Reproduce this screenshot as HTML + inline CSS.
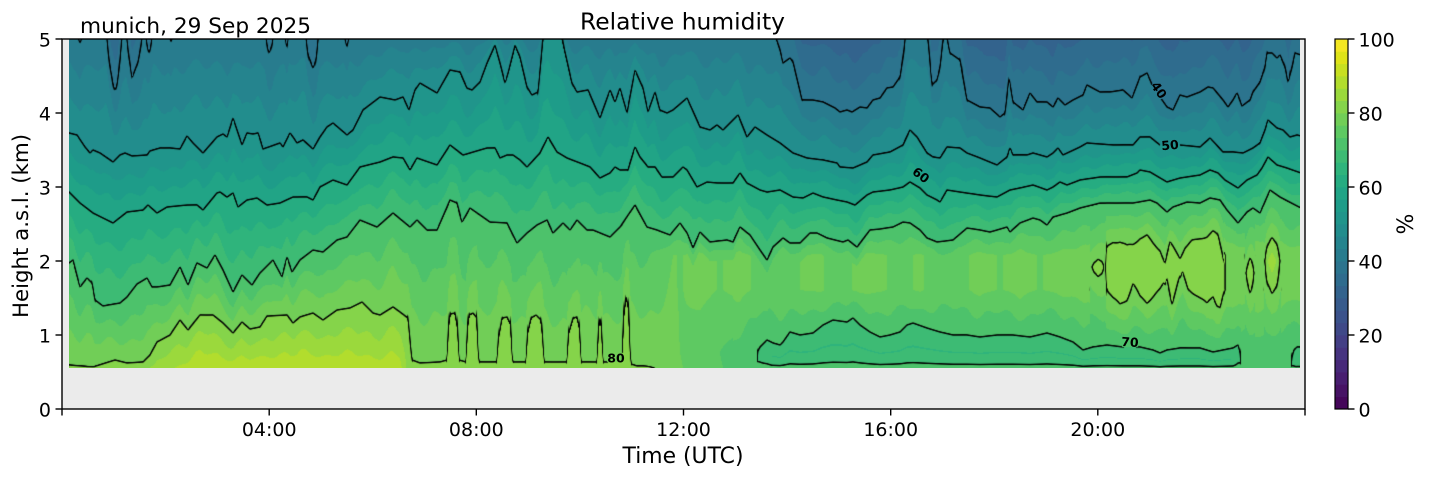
<!DOCTYPE html>
<html><head><meta charset="utf-8">
<style>
html,body{margin:0;padding:0;background:#fff;}
#wrap{position:relative;width:1429px;height:478px;overflow:hidden;background:#fff;}
#cv{position:absolute;left:69px;top:39px;width:1231px;height:329px;}
svg{position:absolute;left:0;top:0;}
text{font-family:"DejaVu Sans","Liberation Sans",sans-serif;fill:#000;}
</style></head><body>
<div id="wrap">
<svg width="1429" height="478"><rect x="62" y="39" width="1243" height="370" fill="#ebebeb"/></svg>
<canvas id="cv" width="1231" height="329"></canvas>
<svg id="ov" width="1429" height="478">
  <rect x="62" y="39" width="1243" height="370" fill="none" stroke="#000" stroke-width="1.4"/>
  <g stroke="#000" stroke-width="1.4">
    <line x1="55.5" y1="39" x2="62" y2="39"/><line x1="55.5" y1="113" x2="62" y2="113"/>
    <line x1="55.5" y1="187" x2="62" y2="187"/><line x1="55.5" y1="261" x2="62" y2="261"/>
    <line x1="55.5" y1="335" x2="62" y2="335"/><line x1="55.5" y1="409" x2="62" y2="409"/>
    <line x1="62" y1="409" x2="62" y2="415.5"/><line x1="269.2" y1="409" x2="269.2" y2="415.5"/>
    <line x1="476.3" y1="409" x2="476.3" y2="415.5"/><line x1="683.5" y1="409" x2="683.5" y2="415.5"/>
    <line x1="890.7" y1="409" x2="890.7" y2="415.5"/><line x1="1097.8" y1="409" x2="1097.8" y2="415.5"/>
    <line x1="1305" y1="409" x2="1305" y2="415.5"/>
  </g>
  <g font-size="19" text-anchor="end">
    <text x="51" y="46.3">5</text><text x="51" y="120.3">4</text><text x="51" y="194.3">3</text>
    <text x="51" y="268.3">2</text><text x="51" y="342.3">1</text><text x="51" y="416.3">0</text>
  </g>
  <g font-size="19" text-anchor="middle">
    <text x="269.2" y="436">04:00</text><text x="476.3" y="436">08:00</text>
    <text x="683.5" y="436">12:00</text><text x="890.7" y="436">16:00</text>
    <text x="1097.8" y="436">20:00</text>
  </g>
  <text x="683" y="463" font-size="22" text-anchor="middle" textLength="121" lengthAdjust="spacingAndGlyphs">Time (UTC)</text>
  <text transform="translate(28,226) rotate(-90)" font-size="21.5" text-anchor="middle" textLength="184" lengthAdjust="spacingAndGlyphs">Height a.s.l. (km)</text>
  <text x="682.5" y="29.3" font-size="23" text-anchor="middle" textLength="205" lengthAdjust="spacingAndGlyphs">Relative humidity</text>
  <text x="80" y="33" font-size="21.5" textLength="231" lengthAdjust="spacingAndGlyphs">munich, 29 Sep 2025</text>
  <g id="cb"></g>
  <rect x="1335" y="39" width="13" height="370" fill="none" stroke="#000" stroke-width="1.2"/>
  <g stroke="#000" stroke-width="1.4">
    <line x1="1348" y1="39" x2="1354.5" y2="39"/><line x1="1348" y1="113" x2="1354.5" y2="113"/>
    <line x1="1348" y1="187" x2="1354.5" y2="187"/><line x1="1348" y1="261" x2="1354.5" y2="261"/>
    <line x1="1348" y1="335" x2="1354.5" y2="335"/><line x1="1348" y1="409" x2="1354.5" y2="409"/>
  </g>
  <g font-size="19">
    <text x="1358.5" y="46.3">100</text><text x="1358.5" y="120.3">80</text><text x="1358.5" y="194.3">60</text>
    <text x="1358.5" y="268.3">40</text><text x="1358.5" y="342.3">20</text><text x="1358.5" y="416.3">0</text>
  </g>
  <text transform="translate(1413,224) rotate(-90)" font-size="22" text-anchor="middle">%</text>
  <g font-size="12.5" font-weight="bold" text-anchor="middle">
    <text x="616" y="362.5">80</text>
    <text x="1130" y="346.5" transform="rotate(4 1130 342)">70</text>
    <text x="921" y="179.5" transform="rotate(38 921 175)">60</text>
    <text x="1170" y="149.5" transform="rotate(-5 1170 145)">50</text>
    <text x="1159" y="94.5" transform="rotate(55 1159 90)">40</text>
  </g>
</svg>
</div>
<script>
(function(){
const VIR=[[68,1,84],[71,19,101],[72,36,117],[70,52,128],[65,68,135],[59,82,139],[53,95,141],[47,108,142],[42,120,142],[37,132,142],[33,145,140],[30,156,137],[34,168,132],[47,180,124],[68,191,112],[94,201,98],[122,209,81],[155,217,60],[189,223,38],[223,227,24],[253,231,37]];
function vir(t){t=Math.max(0,Math.min(1,t))*20;const i=Math.min(19,Math.floor(t)),f=t-i;const a=VIR[i],b=VIR[i+1];return [Math.round(a[0]+(b[0]-a[0])*f),Math.round(a[1]+(b[1]-a[1])*f),Math.round(a[2]+(b[2]-a[2])*f)];}
const PAL=[];for(let k=0;k<30;k++)PAL.push(vir((k+0.5)/30));
const cb=document.getElementById('cb');const NS='http://www.w3.org/2000/svg';
for(let k=0;k<30;k++){const r=document.createElementNS(NS,'rect');const h=370/30;r.setAttribute('x','1335');r.setAttribute('y',(409-(k+1)*h).toFixed(2));r.setAttribute('width','13');r.setAttribute('height',(h+0.4).toFixed(2));const c=PAL[k];r.setAttribute('fill','rgb('+c[0]+','+c[1]+','+c[2]+')');cb.appendChild(r);}

function I(t,x){const n=t.length/2;if(x<=t[0])return t[1];if(x>=t[2*(n-1)])return t[2*n-1];let lo=0,hi=n-1;while(hi-lo>1){const m=(lo+hi)>>1;if(t[2*m]<=x)lo=m;else hi=m;}const x0=t[2*lo],x1=t[2*hi],u=(x-x0)/(x1-x0);return t[2*lo+1]*(1-u)+t[2*hi+1]*u;}

const T40=[69,30,76,30,80,43,84,30,106,30,109,60,113,85,115,90,117,85,120,60,122,36,126,30,128,50,132,78,135,70,138,62,141,45,143,30,145,30,147,45,149,53,151,45,153,30,168,30,171,42,174,30,265,30,267,45,269,53,272,45,274,30,284,30,287,48,289,30,305,30,308,55,313,68,316,60,319,30,343,30,347,47,350,30,540,28,545,-20,560,-20,565,30,770,30,776,38,780,50,783,63,790,58,793,62,802,100,813,100,823,102,835,108,840,112,847,110,852,112,860,107,867,108,873,100,880,98,887,88,893,87,900,77,904,50,906,30,926,30,928,40,932,85,937,80,940,67,943,40,945,32,947,38,950,53,960,60,967,100,980,107,990,108,1000,117,1005,113,1009,78,1013,102,1023,110,1030,93,1037,102,1047,102,1053,107,1058,98,1065,105,1073,100,1083,95,1087,85,1100,92,1110,92,1123,90,1132,98,1140,77,1147,73,1153,87,1167,107,1173,110,1180,95,1187,97,1200,92,1208,87,1213,88,1223,100,1228,107,1233,100,1237,93,1242,106,1250,100,1253,92,1258,85,1260,82,1265,67,1267,53,1272,53,1277,58,1280,55,1285,67,1288,82,1292,67,1295,53,1301,55];
const T50=[69,133,77,135,85,147,90,153,93,150,100,153,113,162,120,155,125,153,132,156,147,155,150,151,160,148,170,148,180,149,187,136,193,143,203,153,217,137,223,134,227,137,233,118,237,130,242,145,247,133,253,134,258,133,263,149,280,143,283,147,290,133,293,137,297,143,303,140,313,149,320,137,327,127,333,123,347,135,353,130,363,110,380,97,395,100,403,97,409,110,415,90,420,83,437,93,450,70,460,72,467,88,472,90,480,82,487,63,495,45,500,63,505,83,508,73,515,45,520,57,527,87,532,95,538,92,543,38,548,20,557,20,562,38,572,83,577,92,588,90,600,118,610,90,615,102,620,88,627,113,635,70,643,88,648,112,655,92,660,110,667,113,673,110,687,98,700,127,710,130,717,125,723,130,738,115,747,137,755,127,767,135,780,143,793,153,807,158,823,160,837,163,840,167,853,168,867,162,873,155,890,152,903,145,910,130,917,137,927,153,933,157,940,158,947,147,960,148,967,153,980,158,997,165,1007,157,1010,148,1013,155,1027,155,1033,153,1047,157,1053,153,1058,148,1063,155,1080,147,1087,143,1113,145,1133,145,1140,137,1150,137,1160,145,1180,145,1200,147,1210,138,1223,152,1233,152,1243,153,1253,148,1260,143,1265,130,1268,120,1277,128,1283,130,1290,137,1297,135,1301,136];
const T60=[69,192,80,203,93,213,103,218,113,223,127,212,143,210,148,205,157,213,167,207,187,205,197,205,203,210,217,193,220,192,227,197,233,193,238,207,247,200,257,198,267,205,280,203,293,197,307,197,313,200,320,187,333,180,347,185,360,167,380,162,393,157,403,158,410,170,417,158,437,165,450,145,463,155,487,148,495,148,500,158,507,155,513,155,520,160,527,167,540,153,548,137,557,152,567,158,580,163,590,167,600,178,610,173,615,167,620,170,628,170,635,147,640,157,648,167,655,167,662,177,673,177,683,167,687,170,697,187,707,182,717,183,727,183,733,183,740,173,747,183,760,190,767,192,780,190,793,197,803,198,813,193,823,197,837,200,847,202,855,205,867,195,873,192,890,190,903,187,910,182,920,188,927,195,937,200,940,202,947,190,960,192,980,195,997,197,1010,190,1020,188,1033,185,1047,190,1053,187,1060,182,1067,185,1080,180,1100,177,1127,177,1137,173,1140,170,1150,172,1167,182,1180,178,1200,175,1210,170,1218,173,1225,180,1238,188,1247,180,1257,175,1262,168,1268,157,1277,165,1287,168,1301,173];
const T70=[69,263,73,260,80,287,87,278,92,283,95,300,103,306,120,303,127,297,137,284,147,278,152,287,157,287,170,285,180,267,188,285,197,263,207,268,215,255,223,270,233,292,242,275,252,285,260,273,273,260,282,277,287,257,292,272,300,260,313,250,323,252,337,240,347,237,360,220,377,227,393,213,410,227,417,220,427,230,437,230,450,200,457,203,462,222,470,208,480,215,490,222,507,223,517,243,527,233,537,225,547,220,553,233,563,223,570,230,577,220,587,230,593,230,610,237,620,227,635,205,647,227,657,230,670,235,680,223,687,233,693,248,700,232,710,242,727,240,733,242,740,227,750,235,760,250,767,260,773,247,783,238,790,243,800,243,810,233,817,233,827,238,843,242,848,240,857,247,870,230,880,229,893,227,903,222,910,223,920,230,927,238,937,242,953,240,967,228,980,230,990,232,997,230,1007,227,1010,232,1020,223,1033,218,1040,220,1047,225,1053,217,1067,213,1080,208,1100,203,1113,203,1133,203,1150,200,1157,203,1167,212,1173,207,1187,202,1200,203,1210,198,1220,200,1227,210,1238,223,1247,212,1253,208,1260,213,1270,190,1280,197,1301,208];
const T80=[69,365,93,367,115,360,127,363,143,362,150,355,157,342,170,335,180,320,188,330,200,315,213,315,223,323,233,333,242,322,250,329,260,327,267,316,287,315,293,323,300,317,313,313,323,320,337,310,350,308,362,302,373,313,380,315,393,307,400,312,408,318,410,340,412,360,420,363,440,362,447,360,448,330,450,314,455,313,458,330,459,360,466,362,467,330,469,315,473,313,477,318,478,350,479,362,497,362,498,340,502,318,507,317,511,325,512,355,513,362,526,362,527,335,531,318,536,315,541,320,543,340,544,362,567,362,568,335,573,318,577,317,580,330,581,362,597,362,598,330,600,318,602,330,603,362,622,362,623,320,626,296,629,310,630,348,631,364,637,366];
const TRB=[69,81,140,82,165,86,200,89,350,89,400,88,407,83,412,81,637,80.6,700,80.6];
const TPK=[637,77.5,660,78,680,76.5,700,77.5,720,76.5,740,77.5,760,76,790,76.5,820,77,840,75.5,860,77.5,880,77,900,76,920,77,940,75.5,960,76,980,77.5,1000,76.5,1020,77.5,1040,76.5,1060,77.5,1080,78,1088,78.5,1090,79,1094,80.8,1098,81.6,1102,80.8,1105,79.5,1107,81.8,1222,81.8,1226,79.5,1240,78.5,1245,79,1247.5,81.5,1250,83.4,1252.5,81.5,1255,79,1264,79,1267,83,1272,85.3,1277,83,1281,79,1301,78];
const TBT=[1106,250,1108,247,1113,243,1120,243,1127,248,1133,245,1140,238,1147,235,1153,243,1160,250,1165,263,1170,243,1175,250,1180,257,1185,247,1192,240,1200,238,1207,237,1213,233,1218,237,1222,253,1224,262];
const TBB=[1106,285,1108,290,1113,297,1120,303,1127,297,1133,283,1140,297,1147,303,1153,297,1160,290,1167,278,1172,303,1178,283,1182,273,1188,290,1200,299,1207,303,1213,293,1217,303,1220,306,1224,292];
const T70L=[757,352,760,347,767,340,773,343,780,345,783,342,790,332,800,335,813,333,823,325,833,320,847,322,853,318,860,325,870,332,880,337,890,335,900,332,907,325,913,323,927,328,940,332,953,335,967,335,980,337,997,335,1013,335,1030,337,1047,333,1060,337,1073,342,1083,350,1093,347,1107,345,1123,347,1140,347,1153,350,1160,353,1167,350,1180,348,1200,348,1213,352,1233,348,1238,345,1241,355];
const T70R=[1291,360,1294,350,1297,347,1301,347];

function knots(X,mode){
  const y40=I(T40,X),y50=I(T50,X),y60=I(T60,X),y70=I(T70,X);
  const k=[];
  if(y40>39)k.push([38,Math.max(30,40-(y40-38)*0.12)]);
  k.push([y40,40],[y50,50],[y60,60],[y70,70]);
  if(mode===0){
    const y80=X<=637?I(T80,X):366;
    k.push([y80,80],[368.6,I(TRB,X)]);
  }else{
    const pk=I(TPK,X);
    const hasL=(X>=757&&X<=1241), hasR=(X>=1291);
    const yl=hasL?I(T70L,X):(hasR?I(T70R,X):352);
    let ya,yb;
    if(X>=1106&&X<=1224){
      const ytop=I(TBT,X),ybot=I(TBB,X);
      ya=y70+(ytop-y70)*(pk-70)/10;
      const r=(pk-80)/(pk-70);
      yb=(ybot-r*yl)/(1-r);
      if(yb<ya+1)yb=ya+1;
    }else if(X>=1090&&X<1106){ya=266.5;yb=267.5;}
    else if(X>=1245&&X<=1255){ya=272.5;yb=273.5;}
    else if(X>=1264&&X<=1281){ya=260.5;yb=261.5;}
    else{ya=Math.max(255,y70+20);yb=Math.max(290,ya+15);}
    k.push([ya,pk],[yb,pk]);
    if(hasL){
      const d=3.5*Math.max(0,Math.min(1,(X-757)/15,(1241-X)/8));
      k.push([yl,70],[(yl+368)/2+1,70-d],[368.6,71.3]);
    }else if(hasR){
      const d=3*Math.min(1,(X-1291)/5);
      k.push([yl,70],[(yl+368)/2+1,70-d],[368.6,70.8]);
    }else{
      let rl;
      if(X<757){const u=Math.max(0,(X-640)/117);rl=80+(70.2-80)*u;}else rl=71;
      k.push([352,rl],[368.6,rl+0.3]);
    }
  }
  for(let i=1;i<k.length;i++)if(k[i][0]<=k[i-1][0]+0.3)k[i][0]=k[i-1][0]+0.3;
  return k;
}
function evalK(k,Y,nz){
  const n=k.length;
  if(Y<=k[0][0]){const s=(k[1][1]-k[0][1])/(k[1][0]-k[0][0]);return k[0][1]+s*(Y-k[0][0]);}
  for(let i=0;i<n-1;i++){
    if(Y<=k[i+1][0]){
      const t=(Y-k[i][0])/(k[i+1][0]-k[i][0]);
      let v=k[i][1]+(k[i+1][1]-k[i][1])*t;
      const dv=Math.abs(k[i+1][1]-k[i][1]);
      if(dv>=5)v+=nz*Math.min(1,dv/8)*Math.sin(Math.PI*t);
      return v;
    }
  }
  return k[n-1][1];
}
function noise(X){return 0.9*(0.6*Math.sin(X*0.29+1.3)+0.45*Math.sin(X*0.13+0.4)+0.35*Math.sin(X*0.061+2.1));}

const W=1231,H=329,OX=69,OY=39;
const F=new Float32Array(W*H);
for(let px=0;px<W;px++){
  const X=OX+px+0.5;const nz=noise(X);
  let kL=null,kR=null,w;
  if(X<680)kL=knots(X,0);
  if(X>637)kR=knots(X,1);
  if(kL&&kR){const t=(X-637)/43;w=t*t*(3-2*t);}else w=kR?1:0;
  for(let py=0;py<H;py++){
    const Y=OY+py+0.5;let v;
    if(w===0)v=evalK(kL,Y,nz);else if(w===1)v=evalK(kR,Y,nz);
    else v=evalK(kL,Y,nz)*(1-w)+evalK(kR,Y,nz)*w;
    F[py*W+px]=v;
  }
}
const MASK=[[616,358,10,7],[1130,342,10,7],[921,175,9,9],[1170,145,10,7],[1159,90,9,9]];
function masked(x,y){for(const m of MASK){const a=(x-m[0])/m[2],b=(y-m[1])/m[3];if(a*a+b*b<1)return true;}return false;}
const cv=document.getElementById('cv');const ctx=cv.getContext('2d');
const img=ctx.createImageData(W,H);const d=img.data;
const LV=[40,50,60,70,80];
for(let py=0;py<H;py++){
  for(let px=0;px<W;px++){
    const i=py*W+px,f=F[i];
    let kk=Math.floor(f*0.3);if(kk<0)kk=0;if(kk>29)kk=29;
    const c=PAL[kk];
    const xa=Math.max(0,px-1),xb=Math.min(W-1,px+1),ya=Math.max(0,py-1),yb=Math.min(H-1,py+1);
    const gx=(F[py*W+xb]-F[py*W+xa])/(xb-xa),gy=(F[yb*W+px]-F[ya*W+px])/(yb-ya);
    const g=Math.sqrt(gx*gx+gy*gy)+1e-6;
    let a=0;
    for(let j=0;j<5;j++){const dd=Math.abs(f-LV[j])/g;if(dd<1.15){const aa=Math.min(1,(1.15-dd)/0.8);if(aa>a)a=aa;}}
    if(a>0&&masked(px+OX+0.5,py+OY+0.5))a=0;
    d[4*i]=Math.round(c[0]*(1-a));d[4*i+1]=Math.round(c[1]*(1-a));d[4*i+2]=Math.round(c[2]*(1-a));d[4*i+3]=255;
  }
}
ctx.putImageData(img,0,0);
})();
</script>
</body></html>
